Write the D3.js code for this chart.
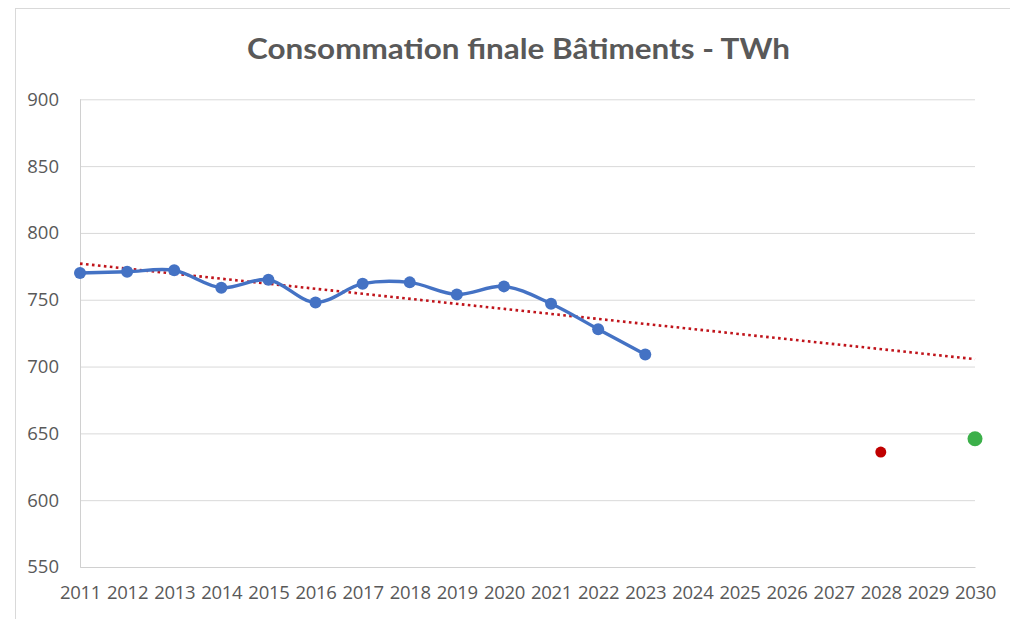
<!DOCTYPE html>
<html><head><meta charset="utf-8">
<script src="https://cdn.jsdelivr.net/npm/d3@7"></script>
<style>body{margin:0;background:#fff}svg{display:block}</style>
</head><body>
<svg id="c" width="1010" height="619"></svg>
<script>
const years = [2011,2012,2013,2014,2015,2016,2017,2018,2019,2020,2021,2022,2023,2024,2025,2026,2027,2028,2029,2030];
const histYears = [2011,2012,2013,2014,2015,2016,2017,2018,2019,2020,2021,2022,2023];
const histValues = [770,771,772,759,765,748,762,763,754,760,747,728,709];
const target2028 = [{year:2028, value:636}];
const target2030 = [{year:2030, value:646}];
const yTicks = [550,600,650,700,750,800,850,900];
const title = "Consommation finale Bâtiments - TWh";

const svg = d3.select("#c");
const x = d3.scalePoint().domain(years).range([80,975]);
const y = d3.scaleLinear().domain([550,900]).range([567,99.3]);

// chart frame
svg.append("rect").attr("x",15.5).attr("y",8.5).attr("width",1010).attr("height",640)
  .attr("fill","#fff").attr("stroke","#d9d9d9");

svg.append("text").attr("x",518.5).attr("y",59).attr("text-anchor","middle")
  .attr("font-family","Lato, 'Open Sans', sans-serif").attr("font-weight","bold")
  .attr("font-size",28).attr("fill","#595959")
  .attr("textLength",543).attr("lengthAdjust","spacingAndGlyphs").text(title);

// gridlines
const yAxis = d3.axisLeft(y).tickValues(yTicks).tickSize(-(975-80)).tickPadding(21);
const gy = svg.append("g").attr("transform","translate(80,0)").call(yAxis);
gy.select(".domain").remove();
gy.selectAll(".tick line").attr("stroke","#d9d9d9");
gy.selectAll(".tick text").attr("font-family","'Open Sans', sans-serif").attr("font-size",18.5)
  .attr("fill","#595959").attr("text-anchor","end");

// left axis line
svg.append("line").attr("x1",80.5).attr("x2",80.5).attr("y1",y(900)).attr("y2",y(550)).attr("stroke","#d0d0d0");

const xAxis = d3.axisBottom(x).tickSize(0).tickPadding(19);
const gx = svg.append("g").attr("transform",`translate(0,${y(550)})`).call(xAxis);
gx.select(".domain").attr("stroke","#d0d0d0");
gx.selectAll(".tick text").attr("font-family","'Open Sans', sans-serif").attr("font-size",18.5)
  .attr("fill","#595959").attr("letter-spacing","-0.3");

// linear trendline (least squares on historical data)
const mx = d3.mean(histYears), my = d3.mean(histValues);
let sxy=0, sxx=0;
histYears.forEach((t,i)=>{sxy+=(t-mx)*(histValues[i]-my); sxx+=(t-mx)*(t-mx);});
const slope = sxy/sxx, icpt = my - slope*mx;
const tYears = [years[0], years[years.length-1]];
svg.append("line")
  .attr("x1",x(tYears[0])).attr("y1",y(icpt+slope*tYears[0]))
  .attr("x2",x(tYears[1])).attr("y2",y(icpt+slope*tYears[1]))
  .attr("stroke","#c0141b").attr("stroke-width",2.6).attr("stroke-dasharray","2.6,3.4");

// historical line
const hist = histYears.map((t,i)=>({year:t,value:histValues[i]}));
const line = d3.line().x(d=>x(d.year)).y(d=>y(d.value)).curve(d3.curveCatmullRom.alpha(0.5));
svg.append("path").datum(hist).attr("d",line).attr("fill","none")
  .attr("stroke","#4472c4").attr("stroke-width",3.4).attr("stroke-linejoin","round");
svg.selectAll(".pt").data(hist).enter().append("circle")
  .attr("cx",d=>x(d.year)).attr("cy",d=>y(d.value)).attr("r",6).attr("fill","#4472c4");

svg.selectAll(".t28").data(target2028).enter().append("circle")
  .attr("cx",d=>x(d.year)).attr("cy",d=>y(d.value)).attr("r",5.5).attr("fill","#c00000");
svg.selectAll(".t30").data(target2030).enter().append("circle")
  .attr("cx",d=>x(d.year)).attr("cy",d=>y(d.value)).attr("r",7.5).attr("fill","#3cb04a");
</script>
</body></html>
